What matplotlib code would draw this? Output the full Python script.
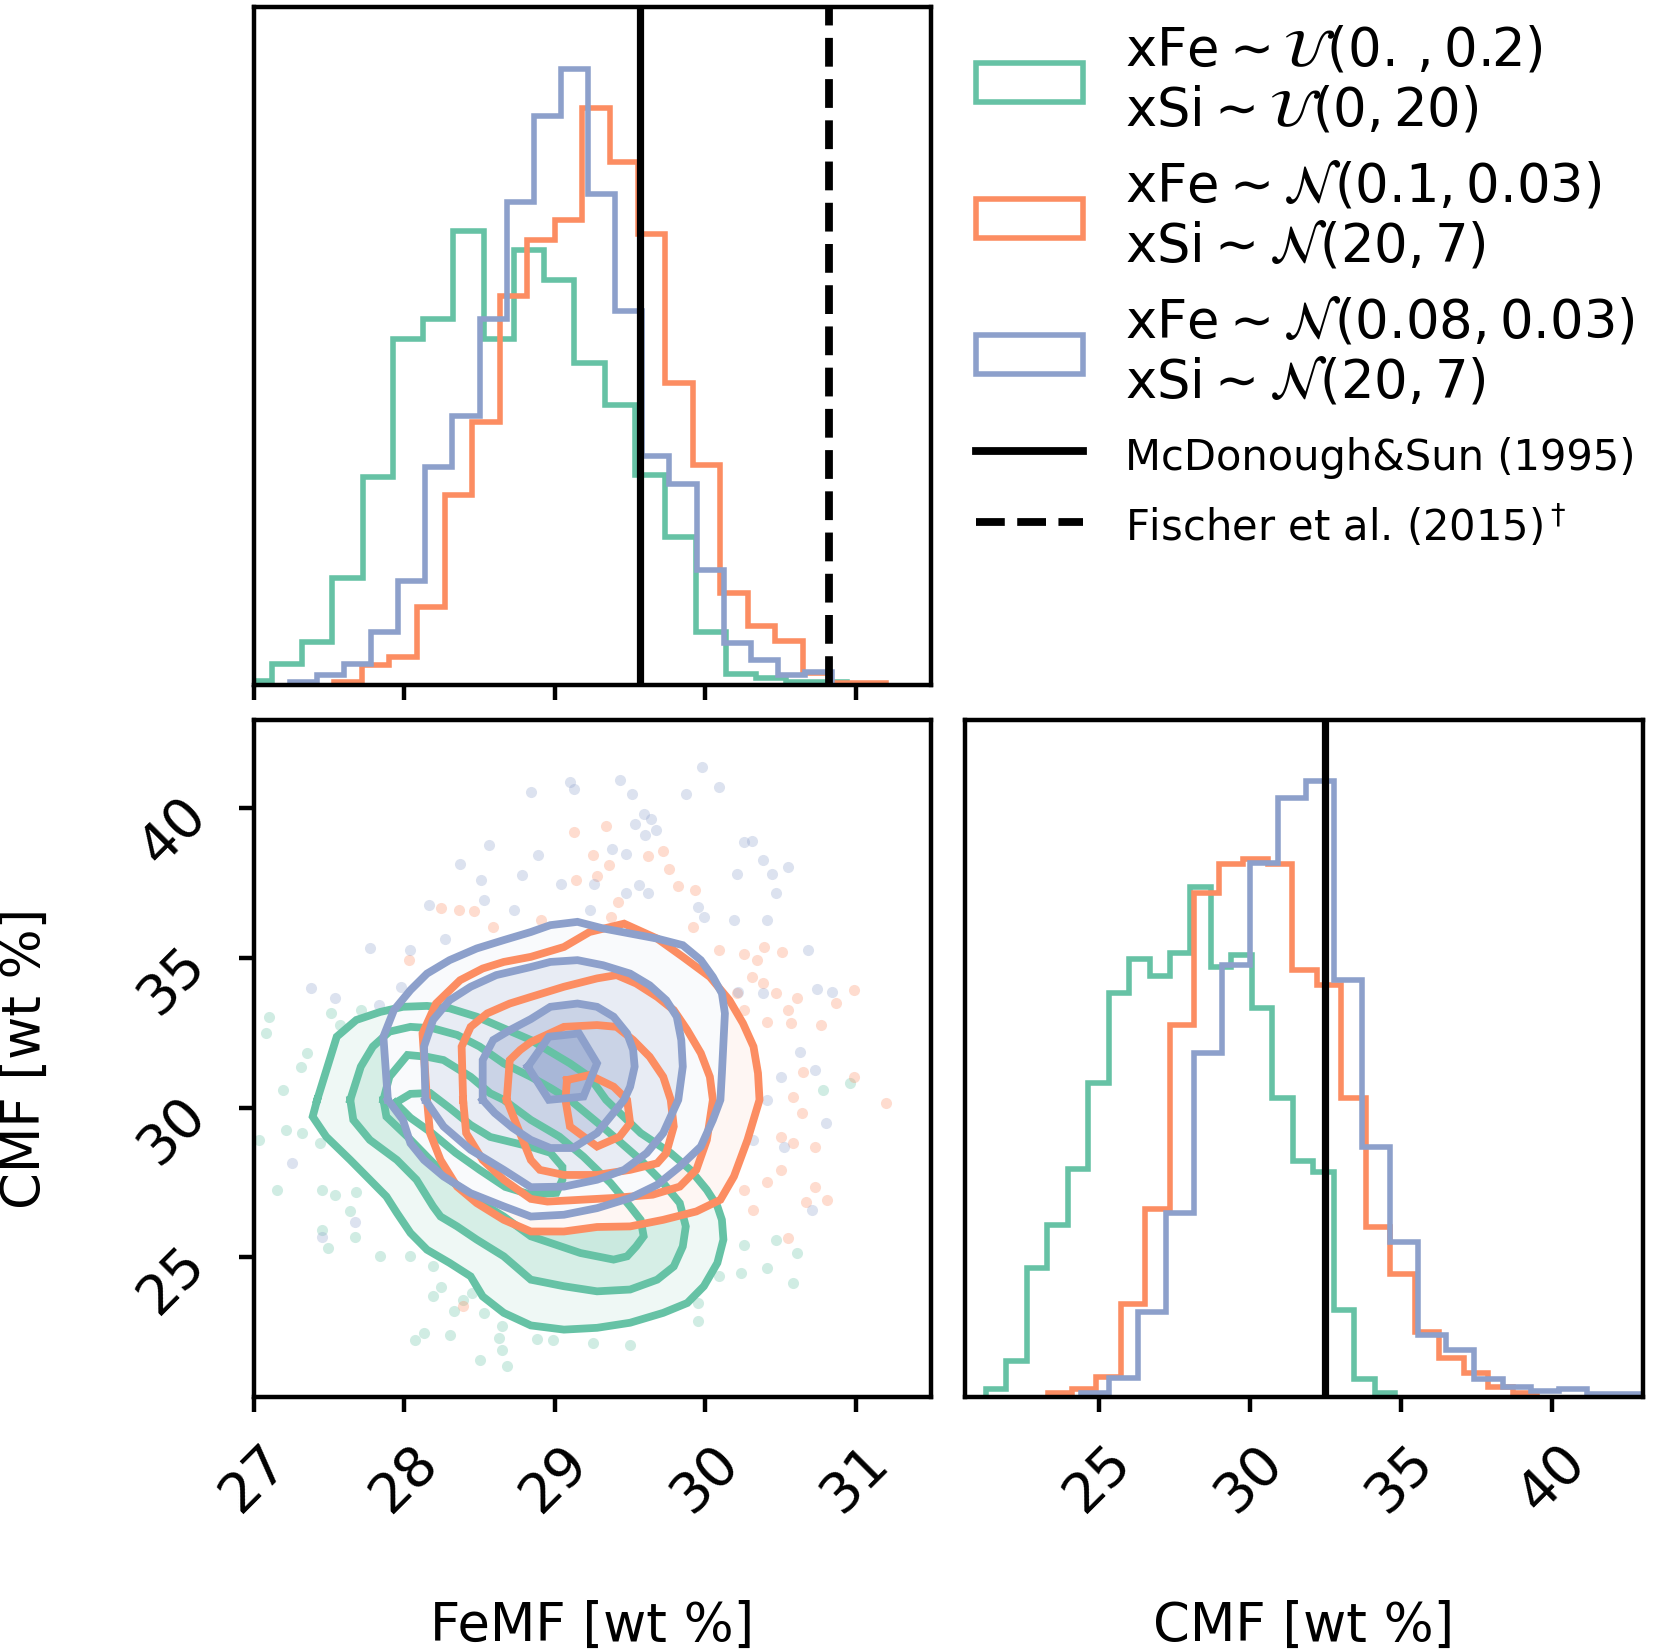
import numpy as np
import matplotlib.pyplot as plt
from matplotlib.patches import Patch
from matplotlib.lines import Line2D

green = "#66c2a5"
orange = "#fc8d62"
blue = "#8da0cb"

# ---- 1D histograms: 20 bins between (lo, hi), heights in arbitrary counts ----
femf_green_range = (26.917, 30.941)
femf_green = [5, 31, 63, 157, 307, 511, 540, 670, 511, 642, 598, 475, 413, 309, 218, 78, 16, 10, 4, 4]
femf_orange_range = (27.534, 31.198)
femf_orange = [4, 29, 40, 114, 280, 388, 574, 656, 686, 851, 772, 665, 446, 324, 135, 86, 64, 17, 3, 2]
femf_blue_range = (27.237, 30.843)
femf_blue = [4, 14, 31, 78, 153, 321, 397, 540, 712, 840, 909, 724, 552, 337, 296, 169, 61, 36, 14, 18]

cmf_green_range = (21.27, 34.81)
cmf_green = [11, 53, 190, 254, 337, 464, 596, 647, 621, 656, 753, 634, 653, 574, 441, 348, 332, 128, 26, 6]
cmf_orange_range = (23.31, 39.51)
cmf_orange = [6, 11, 30, 137, 277, 549, 744, 787, 794, 787, 630, 608, 442, 251, 181, 96, 58, 36, 14, 6]
cmf_blue_range = (24.43, 43.01)
cmf_blue = [6, 28, 125, 272, 507, 638, 788, 884, 909, 615, 369, 229, 92, 70, 27, 14, 9, 11, 4, 4]

# reference values
femf_mcdonough = 29.565
femf_fischer = 30.82
cmf_mcdonough = 32.49

# ---- 2D contours (FeMF, CMF), outermost first ----
green_contours = [
    [(27.42, 30.26), (27.55, 32.37), (27.68, 32.93), (27.84, 33.20), (27.99, 33.37), (28.15, 33.40),
     (28.30, 33.32), (28.48, 33.04), (28.66, 32.65), (28.84, 32.26), (28.97, 31.87), (29.10, 31.48),
     (29.23, 31.03), (29.34, 30.26), (29.57, 29.15), (29.77, 28.48), (29.90, 27.92), (30.01, 27.25),
     (30.08, 26.70), (30.11, 26.25), (30.12, 25.59), (30.08, 24.81), (29.99, 24.03), (29.88, 23.47),
     (29.72, 23.14), (29.50, 22.81), (29.28, 22.64), (29.06, 22.58), (28.84, 22.72), (28.66, 23.14),
     (28.52, 23.69), (28.44, 24.36), (28.30, 24.81), (28.15, 25.25), (28.04, 25.81), (27.95, 26.48),
     (27.88, 27.03), (27.77, 27.59), (27.64, 28.25), (27.48, 29.03), (27.39, 29.70)],
    [(27.64, 30.26), (27.71, 31.37), (27.79, 32.04), (27.90, 32.54), (28.04, 32.70), (28.19, 32.65),
     (28.35, 32.43), (28.50, 32.04), (28.66, 31.48), (28.84, 31.03), (28.97, 30.66), (29.10, 30.26),
     (29.34, 29.26), (29.57, 28.25), (29.72, 27.48), (29.83, 26.81), (29.87, 26.03), (29.85, 25.36),
     (29.79, 24.69), (29.68, 24.25), (29.50, 23.92), (29.28, 23.86), (29.06, 24.03), (28.84, 24.25),
     (28.66, 25.03), (28.48, 25.59), (28.35, 26.03), (28.24, 26.36), (28.19, 26.70), (28.08, 27.59),
     (27.95, 28.25), (27.77, 28.92), (27.66, 29.59)],
    [(27.86, 30.26), (27.90, 31.03), (28.02, 31.76), (28.15, 31.70), (28.26, 31.59), (28.44, 31.03),
     (28.57, 30.48), (28.66, 30.26), (28.84, 29.59), (29.03, 29.03), (29.19, 28.36), (29.37, 27.48),
     (29.50, 26.70), (29.57, 26.25), (29.59, 25.70), (29.54, 25.36), (29.48, 25.03), (29.39, 24.92),
     (29.17, 25.14), (28.97, 25.48), (28.84, 25.70), (28.66, 26.36), (28.48, 26.92), (28.30, 27.59),
     (28.15, 28.36), (28.02, 29.03), (27.88, 29.70)],
    [(27.94, 30.16), (28.04, 30.46), (28.17, 30.49), (28.30, 29.99), (28.44, 29.42), (28.57, 29.02),
     (28.84, 28.69), (28.97, 28.49), (29.05, 28.02), (29.05, 27.59), (29.01, 27.15), (28.84, 27.09),
     (28.67, 27.35), (28.50, 27.92), (28.34, 28.49), (28.18, 29.16), (28.04, 29.66)],
]
orange_contours = [
    [(28.15, 30.26), (28.12, 32.48), (28.21, 33.48), (28.37, 34.26), (28.52, 34.65), (28.66, 34.87),
     (28.84, 35.04), (29.06, 35.37), (29.23, 35.87), (29.46, 36.15), (29.68, 35.65), (29.85, 35.04),
     (30.03, 34.37), (30.16, 33.59), (30.25, 32.82), (30.32, 32.04), (30.35, 31.15), (30.36, 30.26),
     (30.28, 28.92), (30.19, 27.70), (30.10, 26.92), (29.94, 26.53), (29.72, 26.25), (29.50, 26.03),
     (29.28, 26.01), (29.06, 25.86), (28.84, 25.86), (28.66, 26.25), (28.48, 26.81), (28.35, 27.36),
     (28.24, 28.25), (28.17, 29.15)],
    [(28.39, 30.26), (28.38, 32.04), (28.44, 32.70), (28.55, 33.15), (28.70, 33.48), (28.84, 33.70),
     (29.06, 34.04), (29.28, 34.32), (29.41, 34.43), (29.54, 34.15), (29.68, 33.70), (29.79, 33.26),
     (29.88, 32.59), (29.97, 31.82), (30.03, 31.03), (30.05, 30.26), (30.01, 28.92), (29.94, 27.92),
     (29.83, 27.36), (29.65, 27.09), (29.39, 26.98), (29.17, 26.92), (28.95, 26.86), (28.84, 26.95),
     (28.66, 27.59), (28.52, 28.25), (28.41, 29.15)],
    [(28.68, 30.26), (28.70, 31.59), (28.77, 31.93), (28.84, 32.19), (29.06, 32.70), (29.28, 32.76),
     (29.41, 32.70), (29.52, 32.26), (29.63, 31.70), (29.72, 31.03), (29.77, 30.26), (29.79, 29.37),
     (29.74, 28.48), (29.68, 28.14), (29.50, 27.92), (29.28, 27.75), (29.06, 27.75), (28.90, 27.92),
     (28.84, 28.25), (28.75, 29.37)],
    [(29.08, 30.92), (29.23, 31.09), (29.39, 30.70), (29.48, 30.26), (29.50, 29.48), (29.43, 29.03),
     (29.28, 28.70), (29.10, 29.37), (29.07, 30.26)],
]
blue_contours = [
    [(27.89, 30.26), (27.86, 32.37), (27.93, 33.26), (28.04, 33.93), (28.15, 34.48), (28.30, 34.93),
     (28.48, 35.32), (28.66, 35.60), (28.84, 35.87), (28.97, 36.10), (29.15, 36.21), (29.32, 35.99),
     (29.50, 35.82), (29.68, 35.65), (29.85, 35.43), (29.97, 34.93), (30.05, 34.37), (30.11, 33.82),
     (30.13, 33.15), (30.12, 32.15), (30.11, 31.15), (30.10, 30.26), (30.05, 29.59), (29.97, 28.70),
     (29.83, 28.03), (29.68, 27.42), (29.50, 26.98), (29.28, 26.64), (29.06, 26.42), (28.84, 26.36),
     (28.66, 26.70), (28.44, 27.14), (28.26, 27.70), (28.13, 28.25), (28.04, 28.81), (27.99, 29.59)],
    [(28.14, 30.26), (28.13, 32.04), (28.19, 32.93), (28.30, 33.59), (28.44, 34.04), (28.61, 34.43),
     (28.84, 34.70), (28.97, 34.87), (29.15, 34.93), (29.32, 34.76), (29.50, 34.48), (29.63, 34.09),
     (29.74, 33.59), (29.81, 33.04), (29.84, 32.26), (29.85, 31.37), (29.82, 30.26), (29.72, 29.15),
     (29.61, 28.48), (29.46, 27.92), (29.28, 27.59), (29.06, 27.36), (28.84, 27.34), (28.66, 27.92),
     (28.44, 28.59), (28.26, 29.37), (28.17, 30.03)],
    [(28.52, 30.26), (28.52, 31.59), (28.59, 32.26), (28.70, 32.59), (28.84, 32.96), (28.97, 33.37),
     (29.15, 33.48), (29.28, 33.37), (29.39, 33.04), (29.48, 32.48), (29.52, 31.93), (29.53, 31.37),
     (29.50, 30.70), (29.46, 30.26), (29.28, 29.15), (29.12, 28.65), (28.97, 28.65), (28.84, 28.92),
     (28.72, 29.32), (28.60, 29.82)],
    [(28.82, 31.37), (28.96, 32.37), (29.16, 32.48), (29.28, 31.48), (29.19, 30.37), (28.96, 30.26)],
]

# ---- loose samples outside the contours (FeMF, CMF) ----
green_pts = [
    (27.10, 33.03), (27.08, 32.48), (27.51, 33.15), (27.57, 32.76), (27.71, 33.26), (27.19, 30.59),
    (27.31, 31.37), (27.35, 31.81), (27.21, 29.25), (27.32, 29.14), (27.03, 28.92), (27.44, 28.81),
    (27.15, 27.25), (27.45, 27.25), (27.54, 27.08), (27.68, 27.19), (27.64, 26.53), (27.45, 25.91),
    (27.67, 25.69), (27.49, 25.30), (27.84, 25.05), (28.04, 25.03), (28.19, 24.69), (28.24, 24.02),
    (28.19, 23.69), (28.33, 23.19), (28.53, 23.13), (28.65, 22.69), (28.63, 22.30), (28.30, 22.41),
    (28.07, 22.24), (28.50, 21.58), (28.68, 21.35), (28.65, 21.91), (28.88, 22.27), (28.99, 22.24),
    (29.25, 22.13), (29.50, 22.08), (29.95, 22.86), (29.95, 23.47), (30.09, 24.36), (30.24, 24.47),
    (30.41, 24.64), (30.47, 25.58), (30.58, 24.14), (30.61, 25.14), (30.26, 25.41), (30.78, 30.59),
    (30.96, 30.81), (28.13, 22.47), (28.39, 23.58), (28.45, 23.80),
]
orange_pts = [
    (29.13, 39.21), (29.34, 39.40), (29.72, 38.58), (29.76, 37.96), (29.36, 38.10), (29.62, 38.40),
    (29.25, 38.46), (29.14, 37.60), (29.28, 37.73), (29.82, 37.40), (29.93, 37.27), (29.42, 36.88),
    (29.37, 36.38), (28.36, 36.60), (28.46, 36.58), (28.24, 36.68), (28.59, 36.04), (28.91, 36.27),
    (28.03, 34.95), (29.92, 36.04), (30.09, 35.26), (30.26, 35.15), (30.34, 34.95), (30.51, 35.21),
    (30.39, 35.38), (30.31, 34.37), (30.38, 34.15), (30.47, 33.82), (30.57, 32.82), (30.77, 32.76),
    (30.87, 33.49), (30.99, 33.93), (30.55, 33.26), (30.21, 33.82), (30.26, 33.26), (30.41, 32.87),
    (30.61, 33.65), (30.65, 31.20), (30.58, 30.36), (30.64, 29.81), (30.50, 29.03), (30.58, 28.81),
    (30.73, 28.70), (30.50, 27.92), (30.41, 27.53), (30.26, 27.25), (30.73, 27.36), (30.81, 26.92),
    (30.67, 26.86), (30.32, 26.58), (30.55, 25.64), (31.20, 30.14), (28.39, 23.36), (30.99, 31.03),
]
blue_pts = [
    (29.98, 41.38), (29.10, 40.88), (29.13, 40.66), (29.43, 40.94), (29.51, 40.49), (29.87, 40.49),
    (30.09, 40.72), (28.84, 40.55), (29.59, 39.83), (29.64, 39.66), (29.53, 39.49), (29.67, 39.27),
    (29.60, 39.10), (28.56, 38.77), (28.89, 38.43), (29.38, 38.66), (29.47, 38.49), (30.26, 38.88),
    (30.31, 38.91), (30.38, 38.27), (30.55, 38.05), (28.37, 38.16), (28.78, 37.77), (29.04, 37.49),
    (28.51, 37.60), (29.26, 37.47), (29.56, 37.43), (29.47, 37.16), (29.62, 37.16), (28.53, 36.93),
    (28.73, 36.60), (29.23, 36.60), (29.95, 36.71), (29.99, 36.38), (30.19, 36.27), (30.44, 37.82),
    (30.21, 37.82), (30.47, 37.16), (30.41, 36.27), (27.77, 35.32), (28.16, 36.77), (28.27, 35.65),
    (28.04, 35.26), (30.74, 33.95), (30.84, 33.87), (30.63, 31.87), (30.68, 35.26), (27.38, 33.99),
    (27.54, 33.65), (27.83, 33.43), (27.98, 34.04), (30.22, 33.87), (30.38, 33.82), (30.73, 31.25),
    (30.50, 31.03), (30.80, 29.47), (30.52, 28.70), (30.71, 26.58), (27.45, 25.69), (27.25, 28.14),
    (27.67, 26.19), (30.32, 28.92), (30.41, 30.25),
]

# density shading added per contour level (outermost first)
green_fill = [0.10, 0.18, 0.10, 0.10]
orange_fill = [0.07, 0.06, 0.06, 0.08]
blue_fill = [0.05, 0.15, 0.32, 0.55]

femf_lim = (27.0, 31.5)
cmf_lim2d = (20.33, 42.97)
cmf_lim = (20.58, 43.0)

plt.rcParams.update({
    "axes.linewidth": 1.6,
    "xtick.major.width": 1.6,
    "ytick.major.width": 1.6,
    "xtick.major.size": 5.5,
    "ytick.major.size": 5.5,
    "xtick.labelsize": 20,
    "ytick.labelsize": 20,
    "xtick.major.pad": 8,
    "ytick.major.pad": 8,
})

fig = plt.figure(figsize=(1659 / 200, 1652 / 200), dpi=200)
ax_fe = fig.add_axes([0.1531, 0.5856, 0.4081, 0.4099])
ax_2d = fig.add_axes([0.1531, 0.1544, 0.4081, 0.4100])
ax_cmf = fig.add_axes([0.5817, 0.1544, 0.4084, 0.4100])

hist_lw = 2.0
series = [
    (green, femf_green_range, femf_green, cmf_green_range, cmf_green),
    (orange, femf_orange_range, femf_orange, cmf_orange_range, cmf_orange),
    (blue, femf_blue_range, femf_blue, cmf_blue_range, cmf_blue),
]
for color, fr, fc, cr, cc in series:
    ax_fe.stairs(fc, np.linspace(fr[0], fr[1], len(fc) + 1), color=color, lw=hist_lw)
    ax_cmf.stairs(cc, np.linspace(cr[0], cr[1], len(cc) + 1), color=color, lw=hist_lw)

ax_fe.axvline(femf_mcdonough, color="k", lw=2.6)
ax_fe.axvline(femf_fischer, color="k", lw=2.8, ls="--")
ax_cmf.axvline(cmf_mcdonough, color="k", lw=2.6)

ax_fe.set_xlim(*femf_lim)
ax_fe.set_ylim(0, 1.1 * max(max(femf_green), max(femf_orange), max(femf_blue)))
ax_fe.set_xticks([27, 28, 29, 30, 31])
ax_fe.tick_params(axis="x", labelbottom=False)
ax_fe.set_yticks([])

ax_cmf.set_xlim(*cmf_lim)
ax_cmf.set_ylim(0, 1.1 * max(max(cmf_green), max(cmf_orange), max(cmf_blue)))
ax_cmf.set_xticks([25, 30, 35, 40])
ax_cmf.set_yticks([])
ax_cmf.tick_params(axis="x", labelrotation=45)

# 2D panel: samples, then for each series a white base under its outer contour
# plus the density shading, then all contour lines on top
for color, pts in [(green, green_pts), (orange, orange_pts), (blue, blue_pts)]:
    p = np.array(pts)
    ax_2d.plot(p[:, 0], p[:, 1], "o", ms=4.0, color=color, alpha=0.3, mec="none", zorder=1)

for color, levels, alphas in [(green, green_contours, green_fill),
                              (orange, orange_contours, orange_fill),
                              (blue, blue_contours, blue_fill)]:
    base = np.array(levels[0])
    ax_2d.fill(base[:, 0], base[:, 1], color="white", lw=0, zorder=2)
    for poly, a in zip(levels, alphas):
        p = np.array(poly)
        ax_2d.fill(p[:, 0], p[:, 1], color=color, alpha=a, lw=0, zorder=2)

for color, levels in [(green, green_contours), (orange, orange_contours), (blue, blue_contours)]:
    for poly in levels:
        p = np.array(poly + [poly[0]])
        ax_2d.plot(p[:, 0], p[:, 1], color=color, lw=2.8, zorder=3, solid_joinstyle="miter")

ax_2d.set_xlim(*femf_lim)
ax_2d.set_ylim(*cmf_lim2d)
ax_2d.set_xticks([27, 28, 29, 30, 31])
ax_2d.set_yticks([25, 30, 35, 40])
ax_2d.tick_params(axis="both", labelrotation=45)

ax_2d.set_xlabel("FeMF [wt %]", fontsize=19)
ax_2d.xaxis.set_label_coords(0.5, -0.3)
ax_2d.set_ylabel("CMF [wt %]", fontsize=19)
ax_2d.yaxis.set_label_coords(-0.3, 0.5)
ax_cmf.set_xlabel("CMF [wt %]", fontsize=19)
ax_cmf.xaxis.set_label_coords(0.5, -0.3)

handles = [
    Patch(facecolor="none", edgecolor=green, lw=hist_lw),
    Patch(facecolor="none", edgecolor=orange, lw=hist_lw),
    Patch(facecolor="none", edgecolor=blue, lw=hist_lw),
    Line2D([], [], color="k", lw=2.8),
    Line2D([], [], color="k", lw=2.8, ls="--"),
]
labels = [
    "xFe$\\sim\\mathcal{U}(0.\\,,0.2)$\nxSi$\\sim\\mathcal{U}(0,20)$",
    "xFe$\\sim\\mathcal{N}(0.1,0.03)$\nxSi$\\sim\\mathcal{N}(20,7)$",
    "xFe$\\sim\\mathcal{N}(0.08,0.03)$\nxSi$\\sim\\mathcal{N}(20,7)$",
    "McDonough&Sun (1995)",
    "Fischer et al. (2015)$^\\dagger$",
]
leg = fig.legend(handles, labels, loc="upper left", bbox_to_anchor=(0.5756, 0.998),
                 frameon=False, fontsize=19, handlelength=2.03, handleheight=0.75,
                 handletextpad=0.8, labelspacing=0.45, borderaxespad=0, borderpad=0.4)
for t in leg.get_texts()[3:]:
    t.set_fontsize(15)

fig.savefig("out.png", dpi=200)
